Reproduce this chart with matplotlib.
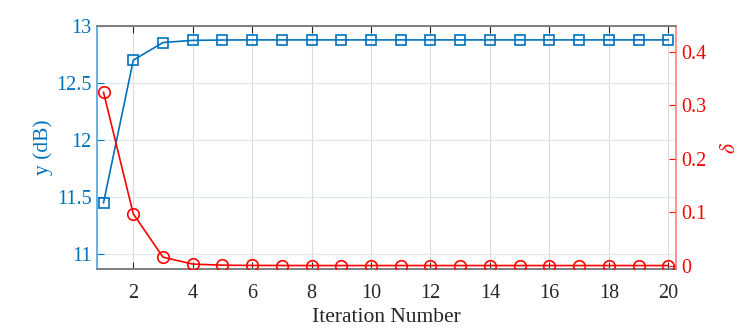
import matplotlib.pyplot as plt

plt.rcParams['font.family'] = ['Liberation Serif', 'DejaVu Serif']
plt.rcParams['mathtext.fontset'] = 'stix'

iterations = list(range(1, 21))
y_db = [11.45, 12.70, 12.855, 12.874, 12.877, 12.878, 12.878, 12.878, 12.878, 12.878,
        12.878, 12.878, 12.878, 12.878, 12.878, 12.878, 12.878, 12.878, 12.878, 12.878]
delta = [0.324, 0.097, 0.016, 0.003, 0.001, 0.0005, 0.0004, 0.0003, 0.0003, 0.0003,
         0.0003, 0.0003, 0.0003, 0.0003, 0.0003, 0.0003, 0.0003, 0.0003, 0.0003, 0.0003]
x_ticks = list(range(2, 21, 2))
left_ticks = [11, 11.5, 12, 12.5, 13]
right_ticks = [0, 0.1, 0.2, 0.3, 0.4]

blue = '#0072BD'
red = '#FF0000'
dark = '#262626'

fig = plt.figure(figsize=(7.47, 3.28), dpi=100)
ax = fig.add_axes([97 / 747, 1 - 269.3 / 328, (676 - 97) / 747, (269.3 - 26) / 328])
ax2 = ax.twinx()

ax.plot(iterations, y_db, color=blue, marker='s', markersize=6.8, markerfacecolor='none',
        markeredgewidth=1.2, linewidth=1.2, zorder=3)
ax2.plot(iterations, delta, color=red, marker='o', markersize=8.3, markerfacecolor='none',
         markeredgewidth=1.2, linewidth=1.2, zorder=3)

ax.set_xlim(0.78, 20.26)
ax.set_ylim(10.866, 13)
ax2.set_ylim(-0.0067, 0.448)
ax.set_xticks(x_ticks)
ax.set_yticks(left_ticks)
ax.set_yticklabels(['11', '11.5', '12', '12.5', '13'])
ax2.set_yticks(right_ticks)
ax2.set_yticklabels(['0', '0.1', '0.2', '0.3', '0.4'])

# grid
for xt in x_ticks:
    ax.axvline(xt, color='#dcdcdc', linewidth=0.8, zorder=0)
for yt in left_ticks:
    ax.axhline(yt, color='#dbe9f5', linewidth=0.8, zorder=0)

ax.tick_params(axis='x', direction='in', top=True, colors=dark, labelsize=14.5,
               length=5, width=0.8, pad=10.5)
ax.tick_params(axis='y', direction='in', colors=blue, labelsize=14.5, length=5, width=0.8, pad=4)
ax2.tick_params(axis='y', direction='in', colors=red, labelsize=14.5, length=5, width=0.8, pad=4)

for side in ['top', 'bottom']:
    ax.spines[side].set_color('#7f7f7f')
    ax2.spines[side].set_color('#7f7f7f')
ax.spines['left'].set_color('#6aaee0')
ax2.spines['left'].set_color('#6aaee0')
ax2.spines['right'].set_color('#ff7f7f')
ax.spines['right'].set_visible(False)
for s in ax.spines.values():
    s.set_linewidth(1.2)
for s in ax2.spines.values():
    s.set_linewidth(1.2)

ax.set_xlabel('Iteration Number', fontsize=15.5, color=dark, labelpad=4)
ax.set_ylabel('y (dB)', fontsize=15.5, color=blue, labelpad=2)
ax2.set_ylabel(r'$\delta$', fontsize=15.5, color=red, labelpad=10)

fig.savefig('out.png', dpi=100)
